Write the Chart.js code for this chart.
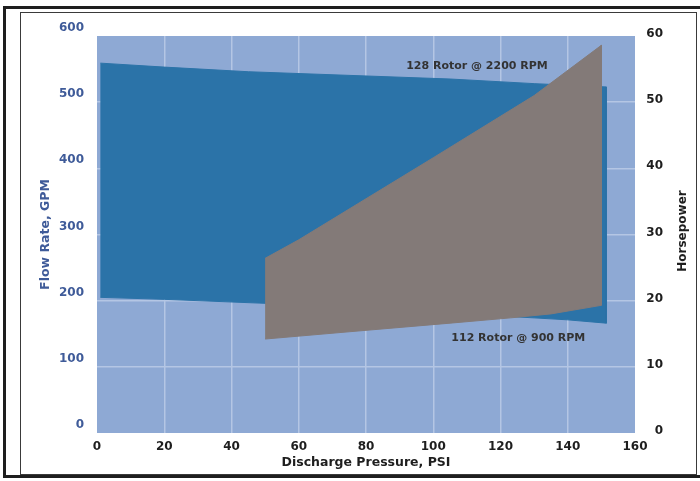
<!DOCTYPE html>
<html>
<head>
<meta charset="utf-8">
<script src="https://cdn.jsdelivr.net/npm/chart.js@4.4.1/dist/chart.umd.min.js"></script>
<style>
html,body{margin:0;padding:0;background:#fff;}
#wrap{position:relative;width:700px;height:481px;overflow:hidden;background:#fff;}
#c{position:absolute;left:0;top:0;}
.frame1{position:absolute;left:3px;top:6px;width:700px;height:466px;border:3px solid #1e1e1e;pointer-events:none;}
.frame2{position:absolute;left:20px;top:12px;width:675px;height:461px;border:1px solid #3a3a3a;pointer-events:none;}
</style>
</head>
<body>
<div id="wrap">
<canvas id="c" width="700" height="481"></canvas>
<div class="frame1"></div>
<div class="frame2"></div>
</div>
<script>
// ---- data ----
const pressureTicks = [0, 20, 40, 60, 80, 100, 120, 140, 160];
const flowTicks = [0, 100, 200, 300, 400, 500, 600];
const hpTicks = [0, 10, 20, 30, 40, 50, 60];

// flow-rate band (GPM, left axis)
const flowTopPsi = [1, 20, 45, 105, 130, 151.5];
const flowTopGpm = [559, 553, 546, 535, 528, 523];
const flowBottomPsi = [1, 20, 50, 130, 140, 151.5];
const flowBottomGpm = [205, 202, 196, 174, 171, 166];

// horsepower band (HP, right axis)
const hpTopPsi = [50, 60, 100, 130, 150];
const hpTopVal = [26.4, 29.2, 41.6, 51.0, 58.6];
const hpBottomPsi = [50, 75, 105, 123, 135, 150];
const hpBottomVal = [14.2, 15.3, 16.6, 17.4, 18.0, 19.3];

const rotorLabels = ['128 Rotor @ 2200 RPM', '112 Rotor @ 900 RPM'];
const axisTitles = { x: 'Discharge Pressure, PSI', flow: 'Flow Rate, GPM', hp: 'Horsepower' };

// ---- build closed outlines ----
function outline(topX, topY, botX, botY) {
  const pts = topX.map((x, i) => ({ x: x, y: topY[i] }));
  for (let i = botX.length - 1; i >= 0; i--) pts.push({ x: botX[i], y: botY[i] });
  return pts;
}
const flowBand = outline(flowTopPsi, flowTopGpm, flowBottomPsi, flowBottomGpm);
const hpBand = outline(hpTopPsi, hpTopVal, hpBottomPsi, hpBottomVal);

const FONT = '"DejaVu Sans", "Liberation Sans", sans-serif';
const BLUE_TEXT = '#3f5b99';
const GRID = '#b4c6e4';

const edgeless = (n) => (ctx) => (ctx.index === 0 || ctx.index === n - 1) ? 'rgba(0,0,0,0)' : GRID;

const decor = {
  id: 'decor',
  beforeDraw(chart) {
    const { ctx, chartArea: a } = chart;
    ctx.save();
    ctx.fillStyle = '#8ea9d4';
    ctx.fillRect(a.left, a.top, a.right - a.left, a.bottom - a.top);
    ctx.restore();
  },
  afterDatasetsDraw(chart) {
    const { ctx } = chart;
    const x = chart.scales.x, y = chart.scales.y;
    ctx.save();
    ctx.font = 'bold 11px ' + FONT;
    ctx.fillStyle = '#333333';
    ctx.textAlign = 'center';
    ctx.textBaseline = 'middle';
    ctx.fillText(rotorLabels[0], x.getPixelForValue(113), y.getPixelForValue(555));
    ctx.fillText(rotorLabels[1], x.getPixelForValue(125.3), y.getPixelForValue(143.5));
    ctx.restore();
  },
  afterDraw(chart) {
    const { ctx } = chart;
    ctx.save();
    ctx.font = 'bold 12px ' + FONT;
    ctx.fillStyle = '#1e1e1e';
    ctx.textAlign = 'center';
    ctx.textBaseline = 'middle';
    ctx.translate(683, 231);
    ctx.rotate(-Math.PI / 2);
    ctx.fillText(axisTitles.hp, 0, 0);
    ctx.restore();
  }
};

new Chart(document.getElementById('c'), {
  type: 'line',
  data: {
    datasets: [
      {
        label: 'Horsepower',
        data: hpBand,
        yAxisID: 'y1',
        fill: 'shape',
        backgroundColor: '#837a78',
        borderColor: '#837a78',
        borderWidth: 1,
        pointRadius: 0,
        tension: 0,
        order: 1
      },
      {
        label: 'Flow Rate',
        data: flowBand,
        yAxisID: 'y',
        fill: 'shape',
        backgroundColor: '#2b73a8',
        borderColor: '#2b73a8',
        borderWidth: 1,
        pointRadius: 0,
        tension: 0,
        order: 2
      }
    ]
  },
  options: {
    responsive: false,
    animation: false,
    devicePixelRatio: 1,
    layout: { padding: { top: 36, left: 0, right: 37, bottom: 0 } },
    plugins: { legend: { display: false }, tooltip: { enabled: false } },
    scales: {
      x: {
        type: 'linear',
        min: 0, max: 160,
        afterBuildTicks: (s) => { s.ticks = pressureTicks.map(v => ({ value: v })); },
        afterFit: (s) => { s.height = 48; },
        grid: { color: edgeless(pressureTicks.length), lineWidth: 1.5, drawTicks: false },
        border: { display: false },
        ticks: { padding: 7, color: '#1e1e1e', font: { family: FONT, size: 12, weight: 'bold' }, maxRotation: 0 },
        title: { display: true, text: axisTitles.x, color: '#1e1e1e', font: { family: FONT, size: 12.5, weight: 'bold' }, padding: { top: 0, bottom: 11 } }
      },
      y: {
        type: 'linear',
        position: 'left',
        min: 0, max: 600,
        afterBuildTicks: (s) => { s.ticks = flowTicks.map(v => ({ value: v })); },
        afterFit: (s) => { s.width = 97; },
        grid: { color: edgeless(flowTicks.length), lineWidth: 1.5, drawTicks: false },
        border: { display: false },
        ticks: { padding: 13, labelOffset: -8, color: BLUE_TEXT, font: { family: FONT, size: 12, weight: 'bold' } },
        title: { display: true, text: axisTitles.flow, color: BLUE_TEXT, font: { family: FONT, size: 12.5, weight: 'bold' }, padding: { top: 38, bottom: 0 } }
      },
      y1: {
        type: 'linear',
        position: 'right',
        min: 0, max: 60,
        afterBuildTicks: (s) => { s.ticks = hpTicks.map(v => ({ value: v })); },
        afterFit: (s) => { s.width = 28; },
        grid: { display: false, drawTicks: false },
        border: { display: false },
        ticks: { padding: 11, labelOffset: -2, crossAlign: 'far', color: '#1e1e1e', font: { family: FONT, size: 12, weight: 'bold' } }
      }
    }
  },
  plugins: [decor]
});
</script>
</body>
</html>
